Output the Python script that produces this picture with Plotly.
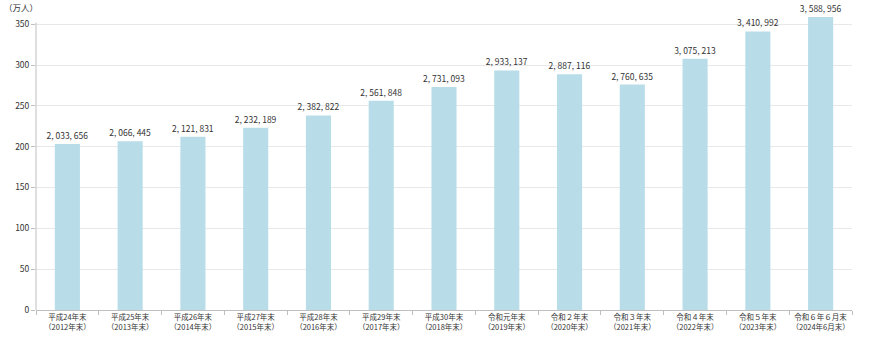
import plotly.graph_objects as go

# Foreign residents at year end (persons)
periods = ["平成24年末", "平成25年末", "平成26年末", "平成27年末", "平成28年末",
           "平成29年末", "平成30年末", "令和元年末", "令和２年末", "令和３年末",
           "令和４年末", "令和５年末", "令和６年６月末"]
years = ["2012年末", "2013年末", "2014年末", "2015年末", "2016年末", "2017年末",
         "2018年末", "2019年末", "2020年末", "2021年末", "2022年末", "2023年末",
         "2024年6月末"]
residents = [2033656, 2066445, 2121831, 2232189, 2382822, 2561848, 2731093,
             2933137, 2887116, 2760635, 3075213, 3410992, 3588956]
y_ticks = [0, 50, 100, 150, 200, 250, 300, 350]

cats = [f"{p}<br>（{y}）" for p, y in zip(periods, years)]
vals = [v / 10000 for v in residents]
labels = [f"{v:,}".replace(",", ", ") for v in residents]

font = "Noto Sans CJK JP, Roboto, sans-serif"
axis_color = "#bfbfbf"

fig = go.Figure(go.Bar(
    x=cats, y=vals, text=labels, textposition="outside",
    textfont=dict(size=8.5, color="#333333", family=font),
    constraintext="none",
    marker=dict(color="#b8dde8", line=dict(width=0)),
    cliponaxis=False, width=0.4,
))

fig.update_layout(
    width=888, height=340,
    margin=dict(l=36, r=36, t=16, b=30, autoexpand=False),
    paper_bgcolor="white", plot_bgcolor="white",
    showlegend=False,
    font=dict(family=font, color="#333333", size=8),
    xaxis=dict(
        showline=True, linecolor=axis_color, linewidth=1,
        ticks="outside", tickson="boundaries", ticklen=4, tickcolor=axis_color,
        tickfont=dict(size=7.5), showgrid=False, tickangle=0, automargin=False,
    ),
    yaxis=dict(
        range=[0, 360], tickvals=y_ticks, automargin=False,
        showline=False,
        ticks="outside", ticklen=4, tickcolor=axis_color,
        showgrid=True, gridcolor="#e8e8e8", gridwidth=1,
        tickfont=dict(size=8.5), zeroline=False,
    ),
    shapes=[dict(
        type="line", xref="paper", yref="y", x0=0, x1=0, y0=0, y1=352,
        line=dict(color=axis_color, width=1), layer="above",
    )],
    annotations=[dict(
        text="（万人）", xref="paper", yref="paper", x=-0.042, y=1.0,
        xanchor="left", yanchor="middle", yshift=9, showarrow=False,
        font=dict(size=8.5, color="#333333"),
    )],
)

fig.write_html("out.html")
